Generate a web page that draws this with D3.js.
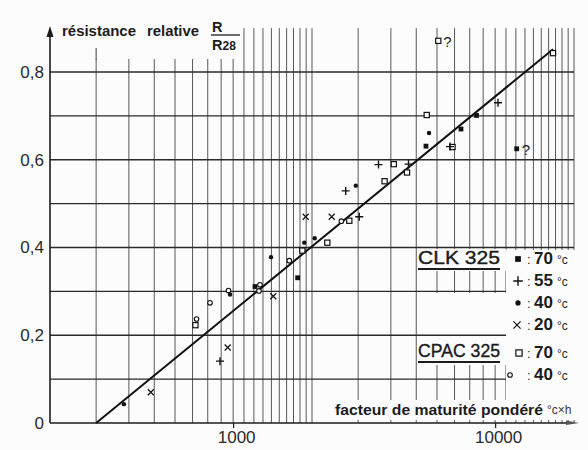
<!DOCTYPE html>
<html><head><meta charset="utf-8">
<script src="https://cdn.jsdelivr.net/npm/d3@7"></script>
<style>body{margin:0;background:#fff}svg{display:block}</style>
</head><body>
<svg id="c" width="588" height="450"></svg>
<script>
// ---- data (x: maturity factor °C·h, y: R/R28) ----
const xTickValues = [1000, 10000];
const xTickLabels = ["1000", "10000"];
const yTickValues = [0, 0.2, 0.4, 0.6, 0.8];
const yTickLabels = ["0", "0,2", "0,4", "0,6", "0,8"];
const yGridValues = [0.1, 0.2, 0.3, 0.4, 0.5, 0.6, 0.7, 0.8];
const xGridValues = [300, 400, 500, 600, 700, 800, 900, 1000,
  1100, 1200, 1300, 1400, 1500, 1600, 1700, 1800, 1900, 2000,
  3000, 4000, 5000, 6000, 7000, 8000, 9000, 10000,
  11000, 12000, 13000, 14000, 15000, 16000, 17000, 18000, 19000, 20000];

const clk70X = [1212, 1763, 5446, 7408, 8492, 12086];
const clk70Y = [0.311, 0.331, 0.631, 0.670, 0.701, 0.625];
const clk55X = [891, 2690, 3030, 3588, 4670, 6727, 10256];
const clk55Y = [0.141, 0.529, 0.470, 0.589, 0.590, 0.630, 0.730];
const clk40X = [383, 973, 1395, 1869, 2048, 2939, 5594];
const clk40Y = [0.043, 0.293, 0.378, 0.411, 0.421, 0.541, 0.661];
const clk20X = [485, 953, 1423, 1892, 2378];
const clk20Y = [0.070, 0.172, 0.289, 0.470, 0.470];
const cpac70X = [718, 1837, 2288, 2776, 3786, 4104, 4610, 5482, 6876, 6068, 16630];
const cpac70Y = [0.223, 0.393, 0.411, 0.461, 0.551, 0.590, 0.571, 0.702, 0.629, 0.871, 0.843];
const cpac40X = [725, 816, 960, 1255, 1266, 1638, 2588];
const cpac40Y = [0.237, 0.274, 0.302, 0.301, 0.315, 0.370, 0.460];
const questionX = [6068, 12086];
const questionY = [0.871, 0.625];
const fitX = [300, 16630];
const fitY = [0, 0.852];

const legendGroups = ["CLK 325", "CPAC 325"];
const legendSymbols = ["fsquare", "plus", "fcircle", "cross", "osquare", "ocircle"];
const legendTemps = ["70", "55", "40", "20", "70", "40"];

// ---- drawing ----
const svg = d3.select("#c");
const x = d3.scaleLog().domain([200, 20000]).range([50, 574]);
const y = d3.scaleLinear().domain([0, 0.8]).range([423, 72]);
const INK = "#1c1c1c";
const FONT = "'Liberation Sans', Arial, sans-serif";

svg.append("rect").attr("width", 588).attr("height", 450).attr("fill", "#fcfcfc");

// vertical grid
svg.append("g").selectAll("line").data(xGridValues).join("line")
  .attr("x1", d => x(d)).attr("x2", d => x(d))
  .attr("y1", y(0.9)).attr("y2", y(0))
  .attr("stroke", "#3c3c3c").attr("stroke-width", 1).attr("stroke-opacity", 0.85);

// white masks (title, legend, axis title)
const masks = [[52, 0, 187, 59], [506, 250, 82, 150], [420, 249, 86, 22], [420, 293, 86, 72], [333, 400, 250, 20]];
svg.append("g").selectAll("rect").data(masks).join("rect")
  .attr("x", d => d[0]).attr("y", d => d[1]).attr("width", d => d[2]).attr("height", d => d[3])
  .attr("fill", "#fcfcfc");

// horizontal grid
svg.append("g").selectAll("line").data(yGridValues).join("line")
  .attr("x1", 50).attr("x2", d => d <= 0.3 ? 506 : x(20000))
  .attr("y1", d => y(d)).attr("y2", d => y(d))
  .attr("stroke", "#2a2a2a").attr("stroke-width", 1.4);

// axes lines with arrows
svg.append("line").attr("x1", 50).attr("x2", 50).attr("y1", y(0)).attr("y2", 34)
  .attr("stroke", INK).attr("stroke-width", 1.6);
svg.append("path").attr("d", "M50,26 L46.5,37 L53.5,37 Z").attr("fill", INK);
svg.append("line").attr("x1", 50).attr("x2", 572).attr("y1", y(0)).attr("y2", y(0))
  .attr("stroke", INK).attr("stroke-width", 1.6);
svg.append("path").attr("d", `M579,${y(0)} L566,${y(0)-2.5} L566,${y(0)+2} Z`).attr("fill", "#555");

// y axis labels
const gy = svg.append("g").attr("transform", "translate(50,0)")
  .call(d3.axisLeft(y).tickValues(yTickValues).tickFormat((d, i) => yTickLabels[i]).tickSize(0).tickPadding(6));
gy.select(".domain").remove();
gy.selectAll("text").attr("font-family", FONT).attr("font-size", 17).attr("fill", "#2a2a2a");

// x axis labels
const gx = svg.append("g").attr("transform", `translate(0,${y(0)})`)
  .call(d3.axisBottom(x).tickValues(xTickValues).tickFormat((d, i) => xTickLabels[i]).tickSize(5).tickPadding(3));
gx.select(".domain").remove();
gx.selectAll("line").attr("stroke", INK).attr("stroke-width", 1.2);
gx.selectAll("text").attr("font-family", FONT).attr("font-size", 17).attr("fill", "#2a2a2a").attr("dx", 3);

// axis titles
svg.append("text").attr("x", 62).attr("y", 36).text("résistance")
  .attr("font-family", FONT).attr("font-weight", "bold").attr("font-size", 15)
  .attr("textLength", 74).attr("lengthAdjust", "spacingAndGlyphs").attr("fill", INK);
svg.append("text").attr("x", 147).attr("y", 36).text("relative")
  .attr("font-family", FONT).attr("font-weight", "bold").attr("font-size", 15)
  .attr("textLength", 52).attr("lengthAdjust", "spacingAndGlyphs").attr("fill", INK);
svg.append("text").attr("x", 212).attr("y", 32).text("R")
  .attr("font-family", FONT).attr("font-weight", "bold").attr("font-size", 14.5).attr("fill", INK);
svg.append("line").attr("x1", 211).attr("x2", 240).attr("y1", 35).attr("y2", 35)
  .attr("stroke", INK).attr("stroke-width", 1.3);
const r28 = svg.append("text").attr("x", 212).attr("y", 50)
  .attr("font-family", FONT).attr("font-weight", "bold").attr("font-size", 14.5).attr("fill", INK);
r28.append("tspan").text("R");
r28.append("tspan").text("28").attr("font-size", 12);
// 300 line top extends a bit higher
svg.append("line").attr("x1", x(300)).attr("x2", x(300)).attr("y1", 48).attr("y2", 60)
  .attr("stroke", "#3c3c3c").attr("stroke-width", 1);

svg.append("text").attr("x", 335).attr("y", 415).text("facteur de maturité pondéré")
  .attr("font-family", FONT).attr("font-weight", "bold").attr("font-size", 15.5)
  .attr("textLength", 208).attr("lengthAdjust", "spacingAndGlyphs").attr("fill", INK);
svg.append("text").attr("x", 547).attr("y", 414).text("°c×h")
  .attr("font-family", FONT).attr("font-size", 12).attr("fill", "#333");

// fit line
const fit = fitX.map((d, i) => [d, fitY[i]]);
svg.append("path").datum(fit)
  .attr("d", d3.line().x(d => x(d[0])).y(d => y(d[1])))
  .attr("stroke", "#111").attr("stroke-width", 2).attr("fill", "none");

// markers
function drawMarker(g, type, cx, cy, s) {
  s = s || 1;
  if (type === "fsquare") g.append("rect").attr("x", cx - 2.4 * s).attr("y", cy - 2.4 * s).attr("width", 4.8 * s).attr("height", 4.8 * s).attr("fill", "#111");
  else if (type === "osquare") g.append("rect").attr("x", cx - 2.6 * s).attr("y", cy - 2.6 * s).attr("width", 5.2 * s).attr("height", 5.2 * s).attr("fill", "#fcfcfc").attr("stroke", "#111").attr("stroke-width", 1.2);
  else if (type === "fcircle") g.append("circle").attr("cx", cx).attr("cy", cy).attr("r", 2.2 * s).attr("fill", "#111");
  else if (type === "ocircle") g.append("circle").attr("cx", cx).attr("cy", cy).attr("r", 2.3 * s).attr("fill", "#fcfcfc").attr("stroke", "#111").attr("stroke-width", 1.1);
  else if (type === "plus") g.append("path").attr("d", `M${cx - 4 * s},${cy}H${cx + 4 * s}M${cx},${cy - 4 * s}V${cy + 4 * s}`).attr("stroke", "#111").attr("stroke-width", 1.4);
  else if (type === "cross") g.append("path").attr("d", `M${cx - 3 * s},${cy - 3 * s}L${cx + 3 * s},${cy + 3 * s}M${cx + 3 * s},${cy - 3 * s}L${cx - 3 * s},${cy + 3 * s}`).attr("stroke", "#111").attr("stroke-width", 1.2);
}
const series = [
  ["osquare", cpac70X, cpac70Y], ["ocircle", cpac40X, cpac40Y],
  ["fsquare", clk70X, clk70Y], ["plus", clk55X, clk55Y],
  ["fcircle", clk40X, clk40Y], ["cross", clk20X, clk20Y]
];
const gm = svg.append("g");
series.forEach(([type, xs, ys]) => xs.forEach((d, i) => drawMarker(gm, type, x(d), y(ys[i]))));

svg.append("g").selectAll("text").data(questionX).join("text")
  .attr("x", (d) => x(d) + 5).attr("y", (d, i) => y(questionY[i]) + 6).text("?")
  .attr("font-family", FONT).attr("font-size", 15).attr("fill", INK);

// legend
const groupY = [264, 357];
legendGroups.forEach((t, i) => {
  svg.append("text").attr("x", 418).attr("y", groupY[i]).text(t)
    .attr("font-family", FONT).attr("font-size", 19)
    .attr("textLength", 82).attr("lengthAdjust", "spacingAndGlyphs").attr("fill", INK)
    .attr("stroke", INK).attr("stroke-width", 0.4);
  svg.append("line").attr("x1", 418).attr("x2", 500).attr("y1", groupY[i] + 5).attr("y2", groupY[i] + 5)
    .attr("stroke", INK).attr("stroke-width", 2.2);
});
const rowY = [264, 286, 308, 330, 358, 380];
const markX = [518, 518, 518, 517, 519, 510];
legendSymbols.forEach((s, i) => {
  drawMarker(svg, s, markX[i], rowY[i] - 5, s === "ocircle" ? 1 : 1.2);
  const t = svg.append("text").attr("x", 527).attr("y", rowY[i]).attr("font-family", FONT).attr("fill", INK);
  t.append("tspan").text(":").attr("font-size", 13);
  t.append("tspan").text(legendTemps[i]).attr("x", 534).attr("font-size", 17).attr("font-weight", "bold");
  t.append("tspan").text("°c").attr("x", 557).attr("font-size", 12);
});
</script>
</body></html>
